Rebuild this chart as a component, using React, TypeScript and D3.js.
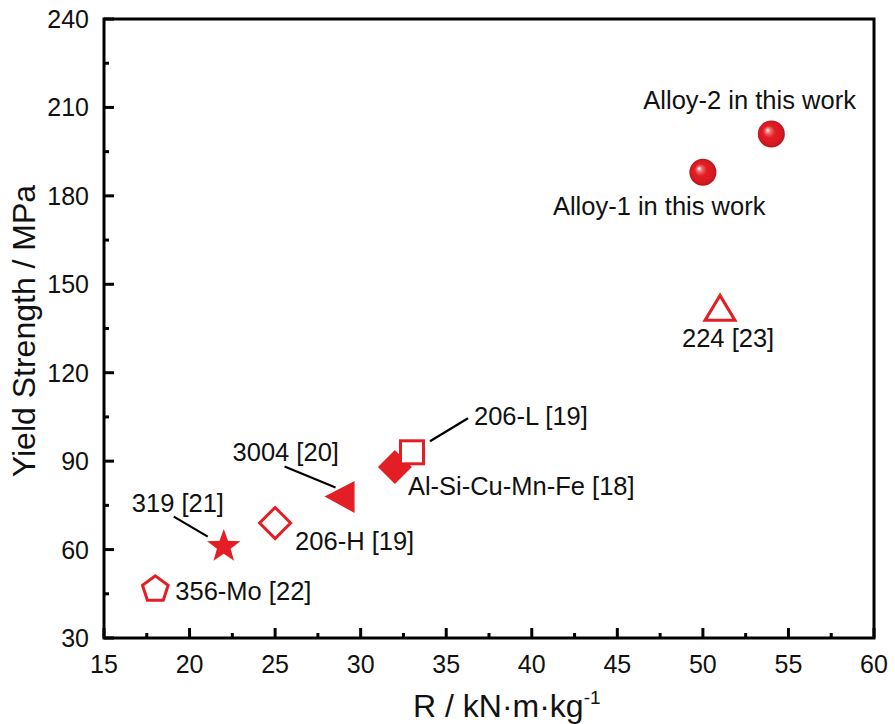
import React from "react";
import * as d3 from "d3";

const names = ["Alloy-2 in this work", "Alloy-1 in this work", "224 [23]", "Al-Si-Cu-Mn-Fe [18]", "206-L [19]", "3004 [20]", "206-H [19]", "319 [21]", "356-Mo [22]"];
const rValues = [54, 50, 51, 32, 33, 29, 25, 22, 18];
const ysValues = [201, 188, 142, 88, 93, 78, 69, 61, 47];
const shapes = ["sphere", "sphere", "triangleOpen", "diamondFilled", "squareOpen", "triangleLeft", "diamondOpen", "star", "pentagonOpen"];
// label offsets from the marker (layout)
const labelDx = [-128, -150, -38, 13, 62, -111, 20, -92, 20];
const labelDy = [-25, 43, 39, 28, -27, -36, 27, -35, 12];
// leader lines (layout) [x1,y1,x2,y2] relative to marker
const leaders: (number[] | null)[] = [null, null, null, null, [18, -11, 56, -34], [-59, -30, -8, -9], null, [-50, -30, -16, -10], null];

const xTicks = [15, 20, 25, 30, 35, 40, 45, 50, 55, 60];
const yTicks = [30, 60, 90, 120, 150, 180, 210, 240];

const W = 895, H = 724;
const M = { left: 104, right: 874, top: 19, bottom: 638 };
const RED = "#e31e24";
const FONT = "'Liberation Sans', Arial, sans-serif";

function Marker({ shape, cx, cy }: { shape: string; cx: number; cy: number }) {
  const t = `translate(${cx},${cy})`;
  switch (shape) {
    case "sphere":
      return <circle cx={cx} cy={cy} r={13.5} fill="url(#sphereGrad)" />;
    case "triangleOpen": {
      const p = d3.path();
      p.moveTo(0, -12.5); p.lineTo(15, 12.5); p.lineTo(-15, 12.5); p.closePath();
      return <path transform={t} d={p.toString()} fill="white" stroke={RED} strokeWidth={3} strokeLinejoin="miter" />;
    }
    case "diamondFilled": {
      const p = d3.path();
      p.moveTo(0, -17); p.lineTo(17, 0); p.lineTo(0, 17); p.lineTo(-17, 0); p.closePath();
      return <path transform={t} d={p.toString()} fill={RED} />;
    }
    case "squareOpen":
      return <rect x={cx - 11.5} y={cy - 11.5} width={23} height={23} fill="white" stroke={RED} strokeWidth={3} />;
    case "triangleLeft": {
      const p = d3.path();
      p.moveTo(-19, 0); p.lineTo(11, -15.5); p.lineTo(11, 16.5); p.closePath();
      return <path transform={t} d={p.toString()} fill={RED} />;
    }
    case "diamondOpen": {
      const p = d3.path();
      p.moveTo(0, -15.5); p.lineTo(15.5, 0); p.lineTo(0, 15.5); p.lineTo(-15.5, 0); p.closePath();
      return <path transform={t} d={p.toString()} fill="white" stroke={RED} strokeWidth={3} />;
    }
    case "star": {
      const pts: [number, number][] = [];
      for (let i = 0; i < 10; i++) {
        const a = -Math.PI / 2 + (i * Math.PI) / 5;
        const r = i % 2 === 0 ? 17.5 : 7.2;
        pts.push([r * Math.cos(a), r * Math.sin(a)]);
      }
      return <path transform={t} d={(d3.line()(pts) || "") + "Z"} fill={RED} />;
    }
    case "pentagonOpen": {
      const pts: [number, number][] = [];
      for (let i = 0; i < 5; i++) {
        const a = -Math.PI / 2 + (i * 2 * Math.PI) / 5;
        pts.push([13.5 * Math.cos(a), 13.5 * Math.sin(a) + 1.5]);
      }
      return <path transform={t} d={(d3.line()(pts) || "") + "Z"} fill="white" stroke={RED} strokeWidth={3} strokeLinejoin="miter" />;
    }
  }
  return null;
}

export default function App() {
  const x = d3.scaleLinear().domain([15, 60]).range([M.left, M.right]);
  const y = d3.scaleLinear().domain([30, 240]).range([M.bottom, M.top]);
  const xMinor = xTicks.slice(0, -1).map((v) => v + 2.5);
  const yMinor = yTicks.slice(0, -1).map((v) => v + 15);

  return (
    <svg width={W} height={H} style={{ position: "absolute", left: 0, top: 0, background: "white" }} fontFamily={FONT}>
      <defs>
        <radialGradient id="sphereGrad" cx="0.5" cy="0.5" r="0.5" fx="0.35" fy="0.35">
          <stop offset="0" stopColor="#ffffff" />
          <stop offset="0.2" stopColor="#ee6a6e" />
          <stop offset="0.45" stopColor="#e31e24" />
          <stop offset="0.85" stopColor="#d41920" />
          <stop offset="1" stopColor="#b5121a" />
        </radialGradient>
      </defs>
      <rect width={W} height={H} fill="white" />

      {/* frame */}
      <rect x={M.left} y={M.top} width={M.right - M.left} height={M.bottom - M.top} fill="none" stroke="black" strokeWidth={3} />

      {/* x ticks */}
      {xTicks.map((v) => (
        <g key={"xt" + v}>
          <line x1={x(v)} x2={x(v)} y1={M.bottom} y2={M.bottom - 10} stroke="black" strokeWidth={3} />
          <text x={x(v)} y={673} textAnchor="middle" fontSize={25} fill="#111">{v}</text>
        </g>
      ))}
      {xMinor.map((v) => (
        <line key={"xm" + v} x1={x(v)} x2={x(v)} y1={M.bottom} y2={M.bottom - 5} stroke="black" strokeWidth={3} />
      ))}
      {/* y ticks */}
      {yTicks.map((v) => (
        <g key={"yt" + v}>
          <line x1={M.left} x2={M.left + 10} y1={y(v)} y2={y(v)} stroke="black" strokeWidth={3} />
          <text x={89} y={y(v)} dy="0.36em" textAnchor="end" fontSize={25} fill="#111">{v}</text>
        </g>
      ))}
      {yMinor.map((v) => (
        <line key={"ym" + v} x1={M.left} x2={M.left + 5} y1={y(v)} y2={y(v)} stroke="black" strokeWidth={3} />
      ))}

      {/* axis titles */}
      <text x={413} y={717} fontSize={32} fill="#111">
        R / kN·m·kg<tspan fontSize={19} dy={-13}>-1</tspan>
      </text>
      <text transform={`translate(35,331) rotate(-90)`} textAnchor="middle" fontSize={32} fill="#111">Yield Strength / MPa</text>

      {/* leader lines */}
      {names.map((n, i) => {
        const l = leaders[i];
        if (!l) return null;
        const cx = x(rValues[i]), cy = y(ysValues[i]);
        return <line key={"ld" + i} x1={cx + l[0]} y1={cy + l[1]} x2={cx + l[2]} y2={cy + l[3]} stroke="black" strokeWidth={2.2} />;
      })}

      {/* markers */}
      {names.map((n, i) => (
        <Marker key={"mk" + i} shape={shapes[i]} cx={x(rValues[i])} cy={y(ysValues[i])} />
      ))}

      {/* labels */}
      {names.map((n, i) => (
        <text key={"lb" + i} x={x(rValues[i]) + labelDx[i]} y={y(ysValues[i]) + labelDy[i]} fontSize={25.5} fill="#111">{n}</text>
      ))}
    </svg>
  );
}
